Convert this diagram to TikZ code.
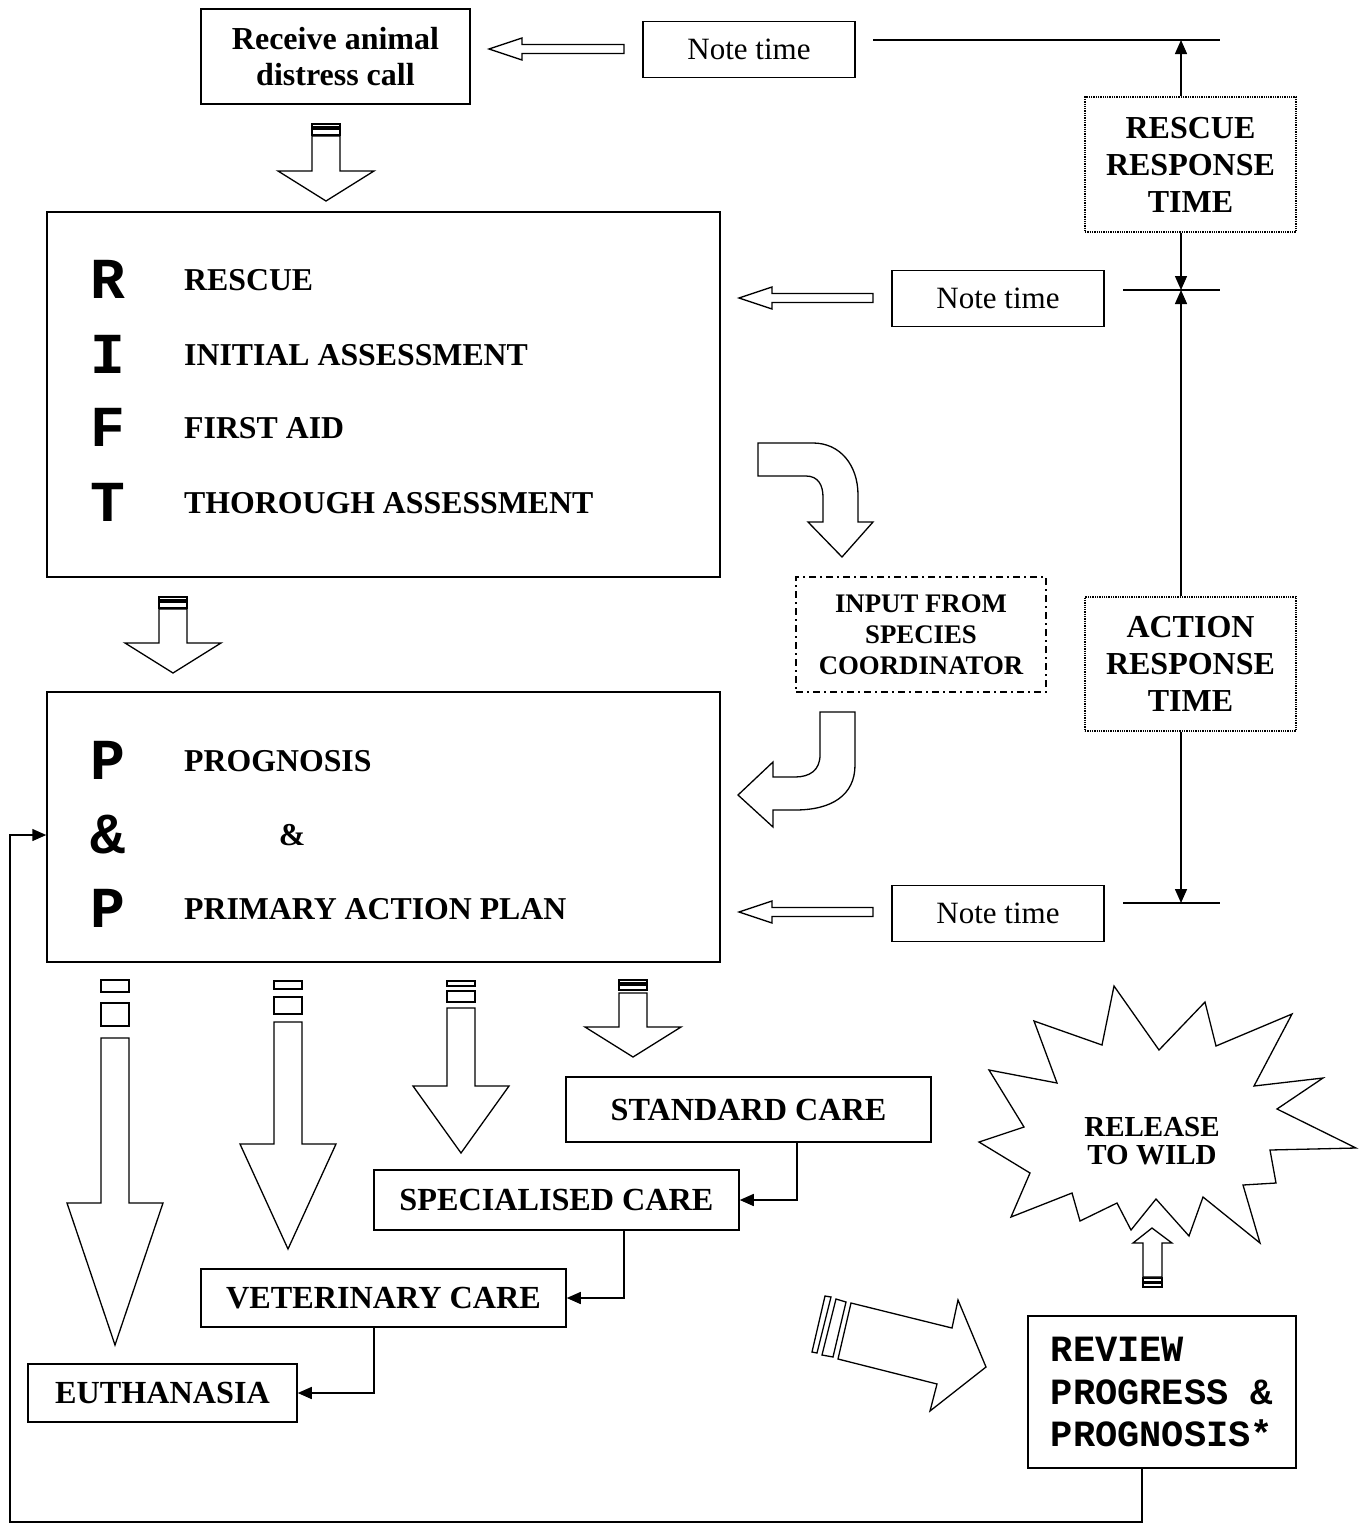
\documentclass[tikz,border=0pt]{standalone}
\usepackage{fontspec}
\setmainfont{Liberation Serif}
\setmonofont{Liberation Mono}
\usetikzlibrary{arrows.meta}
\newcommand\blkdown[8]{%
  \draw[blk] (#1-14,#2) rectangle (#1+14,#3);
  \draw[blk] (#1-14,#4) rectangle (#1+14,#5);
  \draw[blk] (#1-14,#6) -- (#1+14,#6) -- (#1+14,#7) -- (#1+48,#7) -- (#1,#8) -- (#1-48,#7) -- (#1-14,#7) -- cycle;}
\newcommand\blkleft[4]{%
  \draw[blk] (#1,#2-4.5) -- (#3,#2-4.5) -- (#3,#2-11) -- (#4,#2) -- (#3,#2+11) -- (#3,#2+4.5) -- (#1,#2+4.5) -- cycle;}
\begin{document}
\begin{tikzpicture}[x=1pt,y=-1pt,
  sbox/.style={draw,line width=1.5pt,inner sep=0pt,align=center},
  dotbox/.style={draw,line width=1.3pt,densely dotted,inner sep=0pt,align=center,
     font=\bfseries\fontsize{32}{37}\selectfont},
  blk/.style={draw,line width=1.3pt,fill=white,line join=miter},
  conn/.style={line width=1.5pt,-{Triangle[length=14pt,width=12pt]}},
  plain/.style={line width=1.5pt},
  bigletter/.style={inner sep=0pt,font=\ttfamily\bfseries\fontsize{58}{60}\selectfont},
  word/.style={inner sep=0pt,anchor=west,font=\bfseries\fontsize{31.8}{34}\selectfont},
  note/.style={sbox,minimum width=212pt,minimum height=56pt,font=\fontsize{31}{36}\selectfont},
  care/.style={sbox,font=\bfseries\fontsize{32.2}{36}\selectfont}
]
\fill[white] (0,0) rectangle (1358,1526);
\useasboundingbox (0,0) rectangle (1358,1526);

% top row
\node[sbox,minimum width=269pt,minimum height=95pt,font=\bfseries\fontsize{32}{36}\selectfont] (rec) at (335.5,56.5) {Receive animal\\distress call};
\node[note] (note1) at (749,49.5) {Note time};
\node[note] (note2) at (998,298.5) {Note time};
\node[note] (note3) at (998,913.5) {Note time};
\blkleft{624}{49}{522}{489}
\blkleft{873}{298}{772}{739}
\blkleft{873}{912}{772}{739}

% time scale
\coordinate (ta) at (873,40);
\coordinate (tb) at (1220,40);
\coordinate (tc) at (1123,290);
\coordinate (td) at (1220,290);
\coordinate (te) at (1123,903);
\coordinate (tf) at (1220,903);
\draw[plain] (ta) -- (tb);
\draw[plain] (tc) -- (td);
\draw[plain] (te) -- (tf);
\node[dotbox,minimum width=211pt,minimum height=135pt] (rrt) at (1190.5,164.5) {RESCUE\\RESPONSE\\TIME};
\node[dotbox,minimum width=211pt,minimum height=134pt] (art) at (1190.5,664) {ACTION\\RESPONSE\\TIME};
\draw[conn] ([xshift=-9.5pt]rrt.north) -- ([xshift=-9.5pt]rrt.north |- tb);
\draw[conn] ([xshift=-9.5pt]rrt.south) -- ([xshift=-9.5pt]rrt.south |- td);
\draw[conn] ([xshift=-9.5pt]art.north) -- ([xshift=-9.5pt]art.north |- td);
\draw[conn] ([xshift=-9.5pt]art.south) -- ([xshift=-9.5pt]art.south |- tf);

% RIFT box
\blkdown{326}{124}{127}{129}{135}{136}{171}{201}
\node[sbox,minimum width=673pt,minimum height=365pt] (rift) at (383.5,394.5) {};
\node[bigletter] (lr) at (108,279) {R};
\node[bigletter] (li) at (108,354) {I};
\node[bigletter] (lf) at (108,427) {F};
\node[bigletter] (lt) at (108,502) {T};
\node[word] (wr) at (184,280) {RESCUE};
\node[word] (wi) at (184,355) {INITIAL ASSESSMENT};
\node[word] (wf) at (184,428) {FIRST AID};
\node[word] (wt) at (184,503) {THOROUGH ASSESSMENT};

% curved arrows and species coordinator
\draw[blk] (758,443) -- (813,443) .. controls (840,443) and (858,465) .. (858,495) -- (858,522)
  -- (873,522) -- (842,557) -- (808,522) -- (823,522) -- (823,497)
  .. controls (823,485) and (818,476) .. (806,476) -- (758,476) -- cycle;
\node[sbox,solid,line width=1.3pt,dash pattern=on 7pt off 4pt on 2pt off 4pt,minimum width=250pt,minimum height=115pt,
  font=\bfseries\fontsize{26.8}{31}\selectfont] (inp) at (921,634.5) {INPUT FROM\\SPECIES\\COORDINATOR};
\draw[blk] (820,712) -- (855,712) -- (855,765) .. controls (855,795) and (832,810) .. (795,810) -- (773,810)
  -- (773,827) -- (738,795) -- (773,762) -- (773,777) -- (795,777)
  .. controls (810,777) and (820,770) .. (820,755) -- cycle;

% P & P box
\blkdown{173}{597}{600}{602}{608}{609}{643}{673}
\node[sbox,minimum width=673pt,minimum height=270pt] (pp) at (383.5,827) {};
\node[bigletter] (lp1) at (108,760) {P};
\node[bigletter] (lamp) at (108,835) {\&};
\node[bigletter] (lp2) at (108,908) {P};
\node[word] (wp1) at (184,761) {PROGNOSIS};
\node[inner sep=0pt,font=\bfseries\fontsize{31.8}{34}\selectfont] (wamp) at (292,835) {\&};
\node[word] (wp2) at (184,909) {PRIMARY ACTION PLAN};

% bottom block arrows
\blkdown{115}{980}{992}{1003}{1026}{1038}{1203}{1345}
\blkdown{288}{981}{989}{997}{1014}{1022}{1144}{1249}
\blkdown{461}{981}{986}{991}{1002}{1008}{1086}{1153}
\blkdown{633}{980}{983}{985}{990}{993}{1027}{1057}

% care boxes
\node[care,minimum width=365pt,minimum height=65pt] (std) at (748.5,1109.5) {STANDARD CARE};
\node[care,minimum width=365pt,minimum height=60pt] (spec) at (556.5,1200) {SPECIALISED CARE};
\node[care,minimum width=365pt,minimum height=58pt] (vet) at (383.5,1298) {VETERINARY CARE};
\node[care,minimum width=269pt,minimum height=58pt] (euth) at (162.5,1393) {EUTHANASIA};
\draw[conn] ([xshift=48.5pt]std.south) |- (spec.east);
\draw[conn] ([xshift=67.5pt]spec.south) |- (vet.east);
\draw[conn] ([xshift=-9.5pt]vet.south) |- (euth.east);

% release star
\draw[blk] (1114,986) -- (1159,1050) -- (1205,1002) -- (1216,1046) -- (1292,1014) -- (1254,1086)
  -- (1323,1078) -- (1277,1109) -- (1356,1148) -- (1270,1150) -- (1276,1183) -- (1243,1185)
  -- (1260,1243) -- (1203,1197) -- (1189,1236) -- (1156,1199) -- (1131,1230) -- (1117,1203)
  -- (1080,1221) -- (1072,1193) -- (1011,1217) -- (1030,1173) -- (979,1142) -- (1024,1127)
  -- (989,1070) -- (1057,1083) -- (1034,1021) -- (1102,1045) -- cycle;
\node[inner sep=0pt,align=center,font=\bfseries\fontsize{29}{28}\selectfont] (rel) at (1152,1141) {RELEASE\\TO WILD};

% small up arrow
\draw[blk] (1143,1278) rectangle (1162,1282);
\draw[blk] (1143,1283) rectangle (1162,1287);
\draw[blk] (1143,1277) -- (1143,1243) -- (1133,1243) -- (1152,1228) -- (1172,1243) -- (1162,1243) -- (1162,1277) -- cycle;

% tilted arrow
\draw[blk] (825,1296) -- (831,1297) -- (817,1353) -- (812,1352) -- cycle;
\draw[blk] (836,1299) -- (846,1302) -- (833,1357) -- (822,1355) -- cycle;
\draw[blk] (851,1303) -- (952,1328) -- (958,1300) -- (986,1367) -- (930,1411) -- (937,1384) -- (838,1359) -- cycle;

% review
\node[sbox,minimum width=268pt,minimum height=152pt,align=left,
  font=\ttfamily\bfseries\fontsize{37}{42.5}\selectfont] (rev) at (1162,1392) {REVIEW\\PROGRESS \&\\PROGNOSIS*};
\coordinate (fb1) at (1142,1522);
\coordinate (fb2) at (10,1522);
\coordinate (fb3) at (10,835);
\draw[conn] (rev.south -| fb1) -- (fb1) -- (fb2) -- (fb3) -- (fb3 -| pp.west);
\end{tikzpicture}
\end{document}
